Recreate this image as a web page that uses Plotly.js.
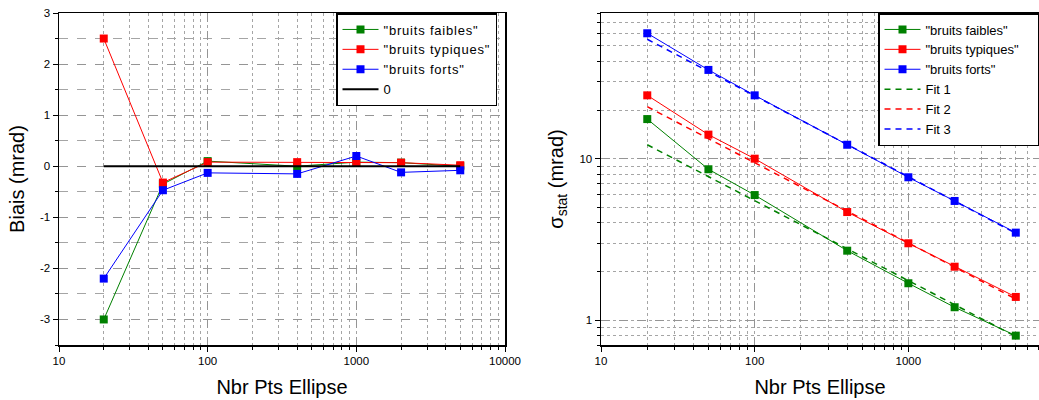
<!DOCTYPE html>
<html>
<head>
<meta charset="utf-8">
<script src="https://cdn.plot.ly/plotly-3.0.1.min.js"></script>
<style>
html,body{margin:0;padding:0;background:#fff;}
#chart{width:1039px;height:400px;}
.legendtext{letter-spacing:0.8px;}
</style>
</head>
<body>
<div id="chart"></div>
<script>
// ---- data ----
const nbrPts = [20, 50, 100, 400, 1000, 2000, 5000];
const biaisFaibles   = [-3.0, -0.35, 0.10, 0.00, 0.08, 0.07, 0.00];
const biaisTypiques  = [2.5, -0.32, 0.08, 0.08, 0.07, 0.07, 0.02];
const biaisForts     = [-2.2, -0.47, -0.13, -0.15, 0.20, -0.12, -0.08];
const zeroX = [20, 5000];
const zeroY = [0, 0];

const sigmaFaibles  = [17.6, 8.6, 5.95, 2.69, 1.69, 1.2, 0.80];
const sigmaTypiques = [24.7, 14.1, 10.0, 4.67, 2.99, 2.14, 1.39];
const sigmaForts    = [59.9, 35.5, 24.7, 12.2, 7.67, 5.47, 3.48];
const fitX = [20, 5000];
const fit1 = [12.2, 0.79];
const fit2 = [21.0, 1.35];
const fit3 = [55.0, 3.45];

const xTickVals = [10, 100, 1000, 10000];
const xTickText = ['10', '100', '1000', '10000'];
const biaisTickVals = [-3, -2, -1, 0, 1, 2, 3];
const biaisTickText = ['-3', '-2', '-1', '0', '1', '2', '3'];
const sigmaTickVals = [1, 10];
const sigmaTickText = ['1', '10'];

const seriesNames = ['"bruits faibles"', '"bruits typiques"', '"bruits forts"'];
const fitNames = ['Fit 1', 'Fit 2', 'Fit 3'];
const colors = ['#008000', '#ff0000', '#0000ff'];

// ---- traces ----
const traces = [];
const biais = [biaisFaibles, biaisTypiques, biaisForts];
biais.forEach((ys, i) => {
  traces.push({x: nbrPts, y: ys, name: seriesNames[i], type: 'scatter', mode: 'lines+markers',
    line: {color: colors[i], width: 1}, marker: {symbol: 'square', size: 8, color: colors[i]},
    xaxis: 'x', yaxis: 'y', legend: 'legend'});
});
traces.push({x: zeroX, y: zeroY, name: '0', type: 'scatter', mode: 'lines',
  line: {color: '#000', width: 2}, xaxis: 'x', yaxis: 'y', legend: 'legend'});

const sig = [sigmaFaibles, sigmaTypiques, sigmaForts];
sig.forEach((ys, i) => {
  traces.push({x: nbrPts, y: ys, name: seriesNames[i], type: 'scatter', mode: 'lines+markers',
    line: {color: colors[i], width: 1}, marker: {symbol: 'square', size: 8, color: colors[i]},
    xaxis: 'x2', yaxis: 'y2', legend: 'legend2'});
});
[fit1, fit2, fit3].forEach((ys, i) => {
  traces.push({x: fitX, y: ys, name: fitNames[i], type: 'scatter', mode: 'lines',
    line: {color: colors[i], width: 1.5, dash: '6px,5px'},
    xaxis: 'x2', yaxis: 'y2', legend: 'legend2'});
});

const FONT = 'Liberation Sans, Arial, sans-serif';
const gridMajor = '#959595';
const gridMinor = '#a5a5a5';
const tickFont = {family: FONT, size: 11.5, color: '#000'};
const titleFont = {family: FONT, size: 20, color: '#000'};
const legendFont = {family: FONT, size: 13, color: '#000'};

function logX(domain, range) {
  return {
    type: 'log', domain: domain, range: range,
    tickvals: xTickVals, ticktext: xTickText,
    showline: true, linecolor: '#000', linewidth: 1.5, mirror: true,
    ticks: 'outside', ticklen: 5, tickcolor: '#000',
    showgrid: true, gridcolor: gridMajor, griddash: 'dash', gridwidth: 1,
    minor: {dtick: 'D1', showgrid: true, gridcolor: gridMinor, griddash: 'dot', gridwidth: 1,
      ticks: 'outside', ticklen: 3, tickcolor: '#000'},
    tickfont: tickFont, zeroline: false,
    title: {text: 'Nbr Pts Ellipse', font: titleFont, standoff: 13}
  };
}

const layout = {
  width: 1039, height: 400,
  margin: {l: 0, r: 0, t: 13, b: 55, autoexpand: false},
  paper_bgcolor: '#fff', plot_bgcolor: '#fff',
  showlegend: true,
  xaxis: Object.assign(logX([59/1039, 505/1039], [1, 4]), {anchor: 'y'}),
  yaxis: {
    anchor: 'x', range: [-3.5, 3],
    tickvals: biaisTickVals, ticktext: biaisTickText,
    showline: true, linecolor: '#000', linewidth: 1.5, mirror: true,
    ticks: 'outside', ticklen: 5, tickcolor: '#000',
    showgrid: true, gridcolor: gridMajor, griddash: 'dash', gridwidth: 1,
    minor: {dtick: 0.5, showgrid: true, gridcolor: gridMinor, griddash: 'dash', gridwidth: 1,
      ticks: 'outside', ticklen: 3, tickcolor: '#000'},
    zeroline: false, tickfont: tickFont,
    title: {text: 'Biais (mrad)', font: titleFont, standoff: 10}
  },
  xaxis2: Object.assign(logX([601/1039, 1.0], [1, 3.85]), {anchor: 'y2'}),
  yaxis2: {
    anchor: 'x2', type: 'log', range: [Math.log10(0.7), Math.log10(80)],
    tickvals: sigmaTickVals, ticktext: sigmaTickText,
    showline: true, linecolor: '#000', linewidth: 1.5, mirror: true,
    ticks: 'outside', ticklen: 5, tickcolor: '#000',
    showgrid: true, gridcolor: gridMajor, griddash: 'dash', gridwidth: 1,
    minor: {dtick: 'D1', showgrid: true, gridcolor: gridMinor, griddash: 'dot', gridwidth: 1,
      ticks: 'outside', ticklen: 3, tickcolor: '#000'},
    zeroline: false, tickfont: tickFont,
    title: {text: 'σ<sub>stat</sub> (mrad)', font: titleFont, standoff: 10}
  },
  legend: {
    x: 336/1039, y: 1, xanchor: 'left', yanchor: 'top',
    bgcolor: '#fff', bordercolor: '#000', borderwidth: 1.5,
    font: legendFont, itemwidth: 36, tracegroupgap: 0
  },
  legend2: {
    x: 878/1039, y: 1, xanchor: 'left', yanchor: 'top',
    bgcolor: '#fff', bordercolor: '#000', borderwidth: 1.5,
    font: legendFont, itemwidth: 36, tracegroupgap: 0
  }
};

Plotly.newPlot('chart', traces, layout, {staticPlot: true, displayModeBar: false});
</script>
</body>
</html>
